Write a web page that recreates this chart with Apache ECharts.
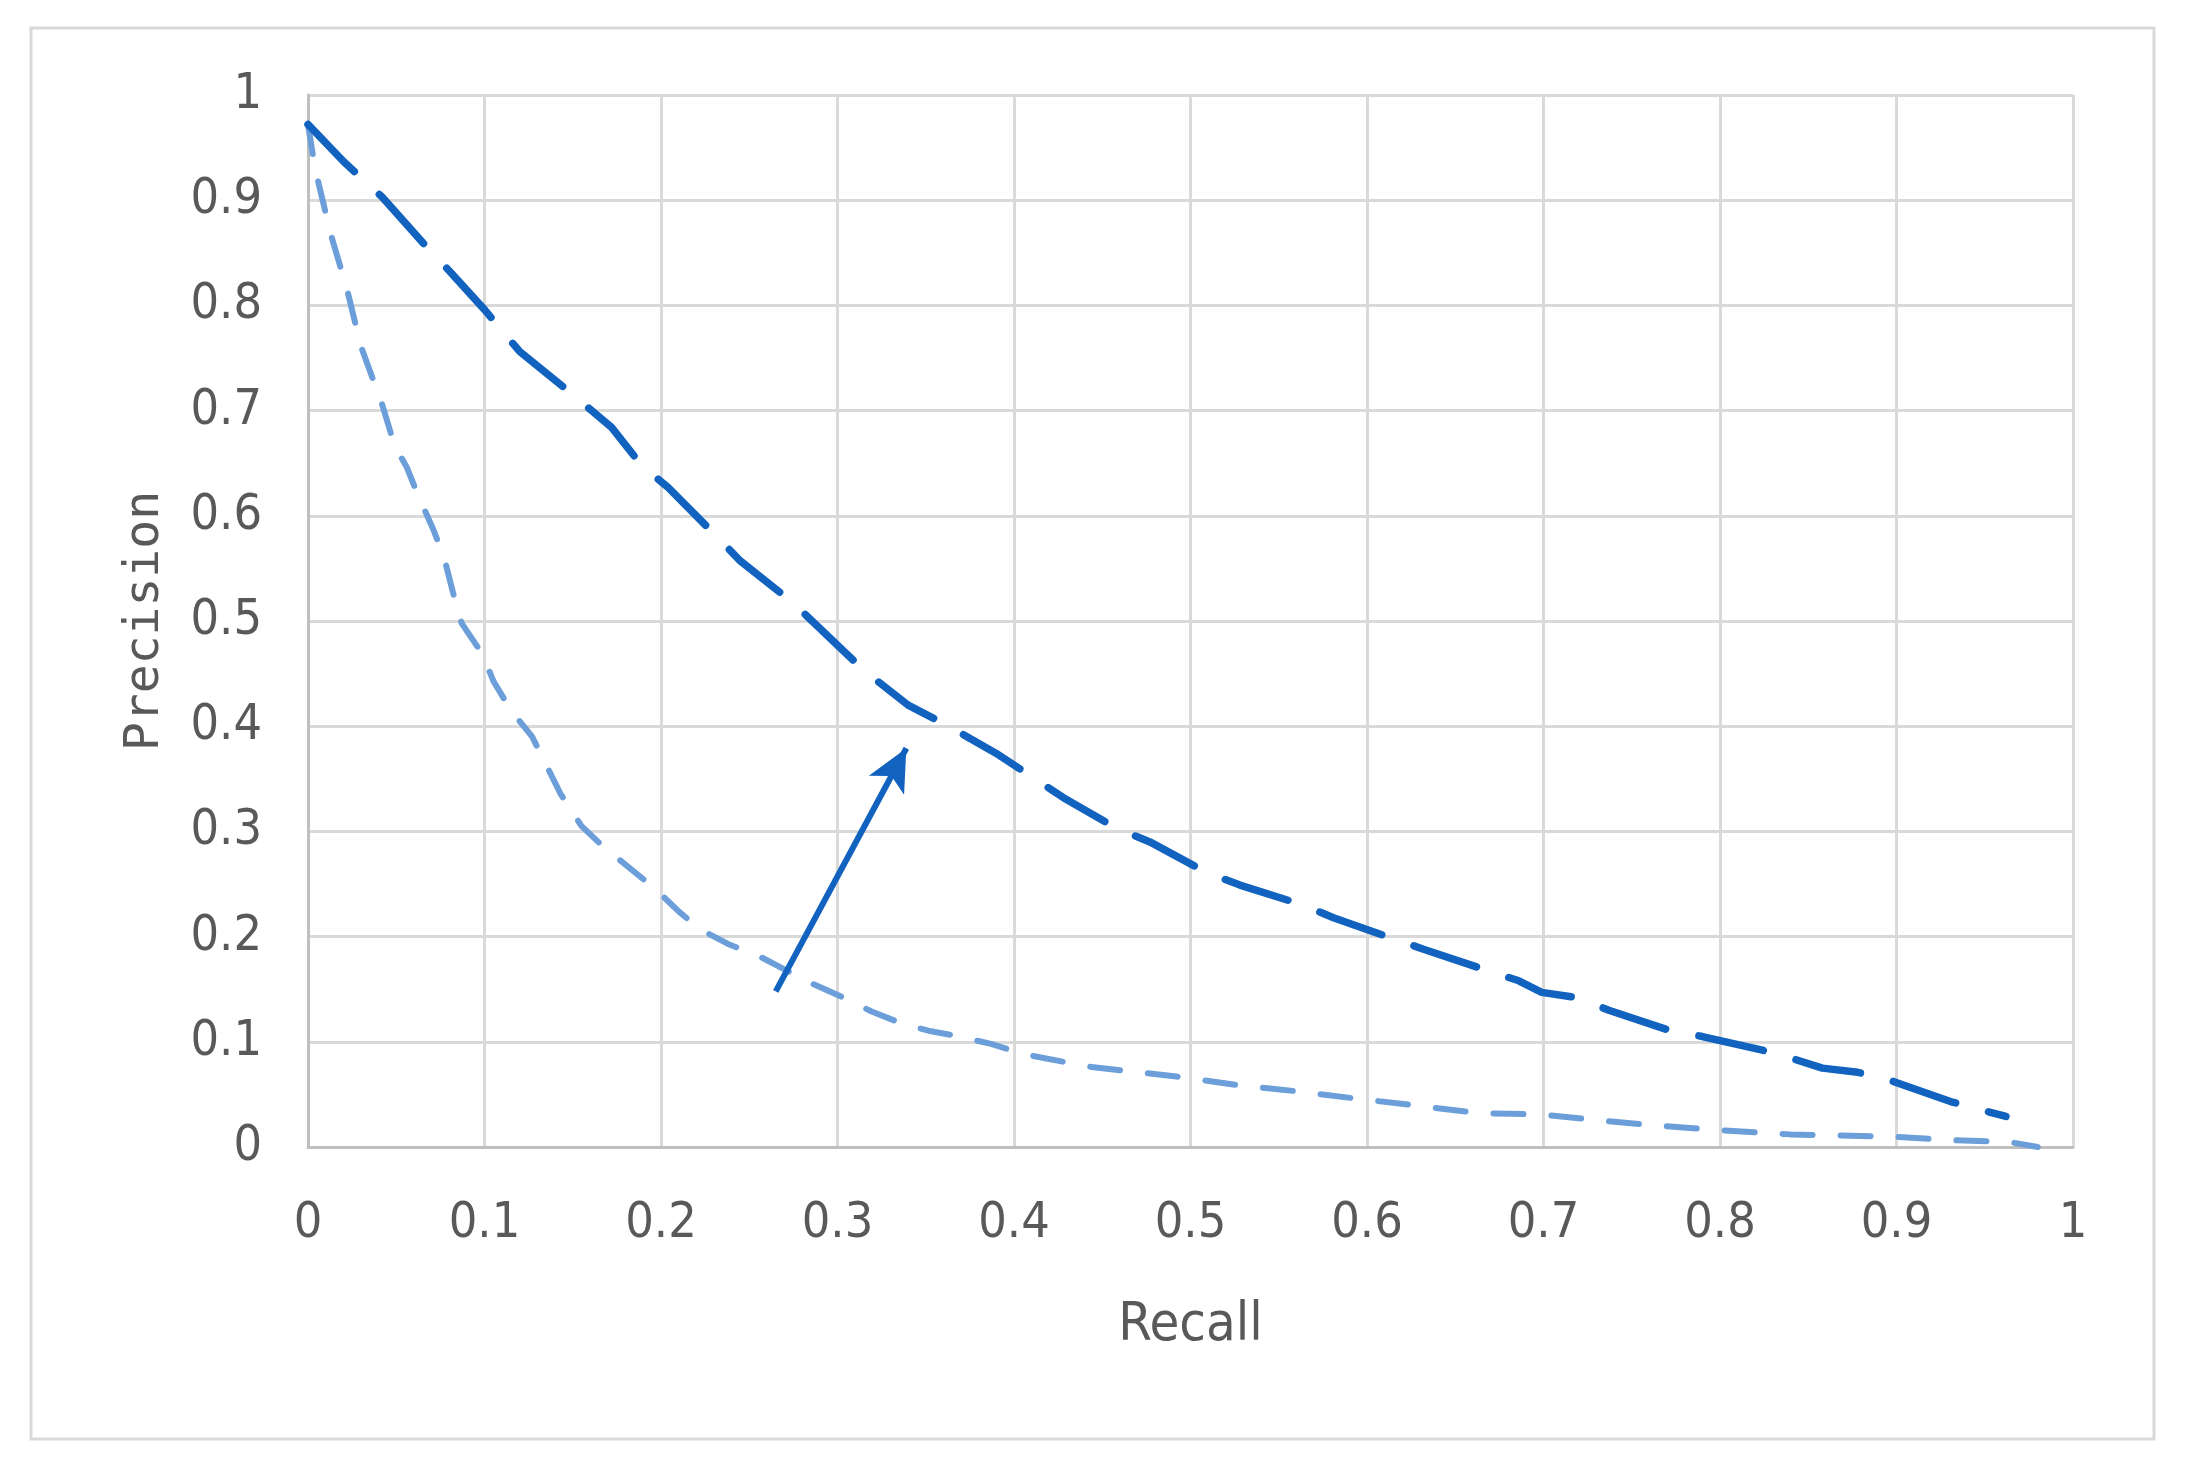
<!DOCTYPE html>
<html>
<head>
<meta charset="utf-8">
<script src="https://cdn.jsdelivr.net/npm/echarts@6/dist/echarts.min.js"></script>
<style>
  html, body { margin: 0; padding: 0; background: #fff; }
  #main { width: 2186px; height: 1480px; }
</style>
</head>
<body>
<div id="main"></div>
<script>
  // upper (improved) curve
  const recallA = [0, 0.02, 0.042, 0.067, 0.081, 0.1, 0.12, 0.148, 0.172, 0.189, 0.204, 0.23, 0.245, 0.275, 0.3,
    0.315, 0.34, 0.363, 0.391, 0.411, 0.428, 0.458, 0.477, 0.509, 0.528, 0.562, 0.581, 0.613, 0.632, 0.666,
    0.686, 0.699, 0.719, 0.737, 0.771, 0.79, 0.824, 0.843, 0.858, 0.878, 0.897, 0.931, 0.962]
  const precisionA = [0.972, 0.937, 0.903, 0.856, 0.831, 0.796, 0.756, 0.718, 0.684, 0.648, 0.627, 0.583, 0.557, 0.517, 0.477,
    0.453, 0.42, 0.4, 0.373, 0.351, 0.332, 0.303, 0.29, 0.261, 0.249, 0.231, 0.218, 0.199, 0.188, 0.169,
    0.158, 0.147, 0.142, 0.13, 0.111, 0.105, 0.092, 0.083, 0.075, 0.071, 0.063, 0.043, 0.029]

  // lower (baseline) curve
  const recallB = [0, 0.004, 0.013, 0.022, 0.03, 0.042, 0.049, 0.056, 0.062, 0.071, 0.077, 0.082, 0.087, 0.099, 0.105,
    0.115, 0.127, 0.143, 0.155, 0.167, 0.197, 0.21, 0.222, 0.238, 0.256, 0.286, 0.306, 0.319, 0.337, 0.353,
    0.369, 0.387, 0.406, 0.444, 0.492, 0.526, 0.56, 0.594, 0.63, 0.664, 0.699, 0.733, 0.767, 0.799, 0.84,
    0.899, 0.933, 0.963, 0.98]
  const precisionB = [0.972, 0.93, 0.867, 0.816, 0.761, 0.706, 0.667, 0.646, 0.621, 0.587, 0.561, 0.528, 0.498, 0.468, 0.443,
    0.415, 0.39, 0.336, 0.305, 0.286, 0.245, 0.224, 0.207, 0.193, 0.181, 0.155, 0.14, 0.129, 0.117, 0.11,
    0.105, 0.098, 0.088, 0.076, 0.067, 0.059, 0.053, 0.046, 0.039, 0.032, 0.031, 0.025, 0.02, 0.016, 0.012,
    0.0097, 0.0064, 0.005, 0]

  // arrow from lower curve towards upper curve
  const arrowFrom = [0.265, 0.148]
  const arrowTo = [0.339, 0.379]

  const zip = (xs, ys) => xs.map((x, i) => [x, ys[i]])

  const labelFont = '"DejaVu Sans Condensed", "Liberation Sans Narrow", "DejaVu Sans", sans-serif'

  const chart = echarts.init(document.getElementById('main'))
  const option = {
    animation: false,
    backgroundColor: '#fff',
    graphic: [{
      type: 'rect',
      shape: { x: 31, y: 28, width: 2123, height: 1411 },
      style: { fill: 'none', stroke: '#D9D9D9', lineWidth: 3 },
      silent: true
    }],
    grid: { left: 308, right: 113, top: 95, bottom: 333 },
    xAxis: {
      type: 'value',
      min: 0, max: 1, interval: 0.1,
      name: 'Recall',
      nameLocation: 'middle',
      nameGap: 152,
      nameTextStyle: { color: '#595959', fontSize: 54, fontFamily: labelFont },
      axisLine: { show: true, lineStyle: { color: '#BFBFBF', width: 3 } },
      axisTick: { show: false },
      axisLabel: { color: '#595959', fontSize: 50, fontFamily: labelFont, margin: 52 },
      splitLine: { show: true, lineStyle: { color: '#D9D9D9', width: 3 } }
    },
    yAxis: {
      type: 'value',
      min: 0, max: 1, interval: 0.1,
      name: 'Precision',
      nameLocation: 'middle',
      nameRotate: 90,
      nameGap: 138,
      nameTextStyle: { color: '#595959', fontSize: 48, fontFamily: '"DejaVu Sans Mono", monospace' },
      axisLine: { show: true, lineStyle: { color: '#BFBFBF', width: 3 } },
      axisTick: { show: false },
      axisLabel: { color: '#595959', fontSize: 50, fontFamily: labelFont, margin: 46 },
      splitLine: { show: true, lineStyle: { color: '#D9D9D9', width: 3 } }
    },
    series: [
      {
        type: 'line',
        data: zip(recallB, precisionB),
        symbol: 'none',
        lineStyle: { color: '#6C9FDA', width: 6, type: [30, 28], cap: 'round' },
        z: 2
      },
      {
        type: 'line',
        data: zip(recallA, precisionA),
        symbol: 'none',
        lineStyle: { color: '#1262BF', width: 7.5, type: [66, 34], cap: 'round' },
        z: 3,
        markLine: {
          silent: true,
          symbol: ['none', 'arrow'],
          symbolSize: [30, 42],
          label: { show: false },
          lineStyle: { color: '#1262BF', width: 6, type: 'solid' },
          data: [[{ coord: arrowFrom }, { coord: arrowTo }]]
        }
      }
    ]
  }
  chart.setOption(option)
  window.addEventListener('resize', () => {
    chart.resize()
  })
</script>
</body>
</html>
